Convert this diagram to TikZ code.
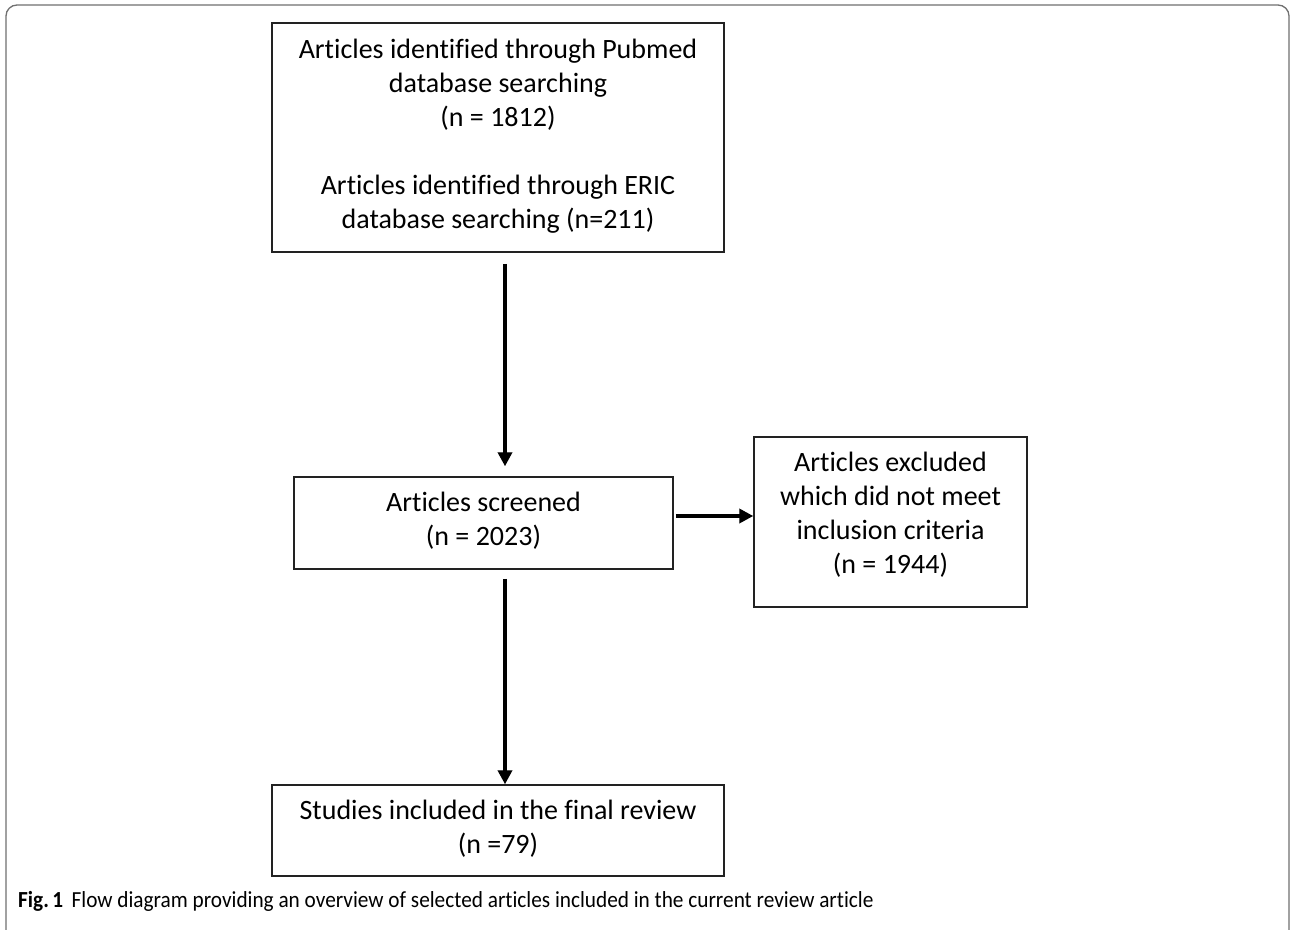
\documentclass[tikz,border=0pt]{standalone}
\usepackage{fontspec}
\setmainfont{Carlito}[Ligatures=NoCommon]
\usetikzlibrary{arrows.meta}
\definecolor{framegray}{HTML}{707070}
\definecolor{boxline}{HTML}{222222}
\tikzset{
  x=1pt, y=-1pt,
  flowbox/.style={draw=boxline, line width=1.5pt, rectangle, inner sep=0pt},
  flowtxt/.style={align=center, font=\fontsize{28}{34}\selectfont, inner sep=0pt},
  arr/.style={line width=3.8pt, -{Triangle[length=14pt,width=14pt]}, black},
  arrshadow/.style={line width=3.8pt, -{Triangle[length=14pt,width=14pt]}, black!25, opacity=0.6},
}
\begin{document}
\begin{tikzpicture}
\useasboundingbox (0,0) rectangle (1292,929);
\fill[white] (0,0) rectangle (1292,929);
\draw[framegray, line width=1.3pt, rounded corners=11pt] (6,931) -- (6,5) -- (1289,5) -- (1289,931);

% boxes
\node[flowbox, minimum width=452pt, minimum height=229pt] (b1) at (498,137.5) {};
\node[flowtxt] (t1) at (498,136) {Articles identified through Pubmed\\database searching\\(n = 1812)\\[34pt]Articles identified through ERIC\\database searching (n=211)};

\node[flowbox, minimum width=379pt, minimum height=92pt] (b2) at (483.5,523) {};
\node[flowtxt] (t2) at (483.5,521) {Articles screened\\(n = 2023)};

\node[flowbox, minimum width=273pt, minimum height=170pt] (b3) at (890.5,522) {};
\node[flowtxt] (t3) at (890.5,515) {Articles excluded\\which did not meet\\inclusion criteria\\(n = 1944)};

\node[flowbox, minimum width=452pt, minimum height=91pt] (b4) at (498,830.5) {};
\node[flowtxt] (t4) at (498,829) {Studies included in the final review\\(n =79)};

% connector guides
\coordinate (ax) at (505,0);
\coordinate (ay) at (0,516);

% shadows
\begin{scope}[xshift=2pt, yshift=-2pt]
\draw[arrshadow, shorten <=11pt, shorten >=10pt] (b1.south -| ax) -- (b2.north -| ax);
\draw[arrshadow, shorten <=2pt] (b2.east |- ay) -- (b3.west |- ay);
\draw[arrshadow, shorten <=9pt] (b2.south -| ax) -- (b4.north -| ax);
\end{scope}

% arrows
\draw[arr, shorten <=11pt, shorten >=10pt] (b1.south -| ax) -- (b2.north -| ax);
\draw[arr, shorten <=2pt] (b2.east |- ay) -- (b3.west |- ay);
\draw[arr, shorten <=9pt] (b2.south -| ax) -- (b4.north -| ax);

% caption
\node[anchor=base west, inner sep=0pt] (cap) at (18,907) {\scalebox{0.925}[1]{\fontsize{23}{27}\selectfont\textbf{Fig.\,1}\hspace{9pt}Flow diagram providing an overview of selected articles included in the current review article}};
\end{tikzpicture}
\end{document}
